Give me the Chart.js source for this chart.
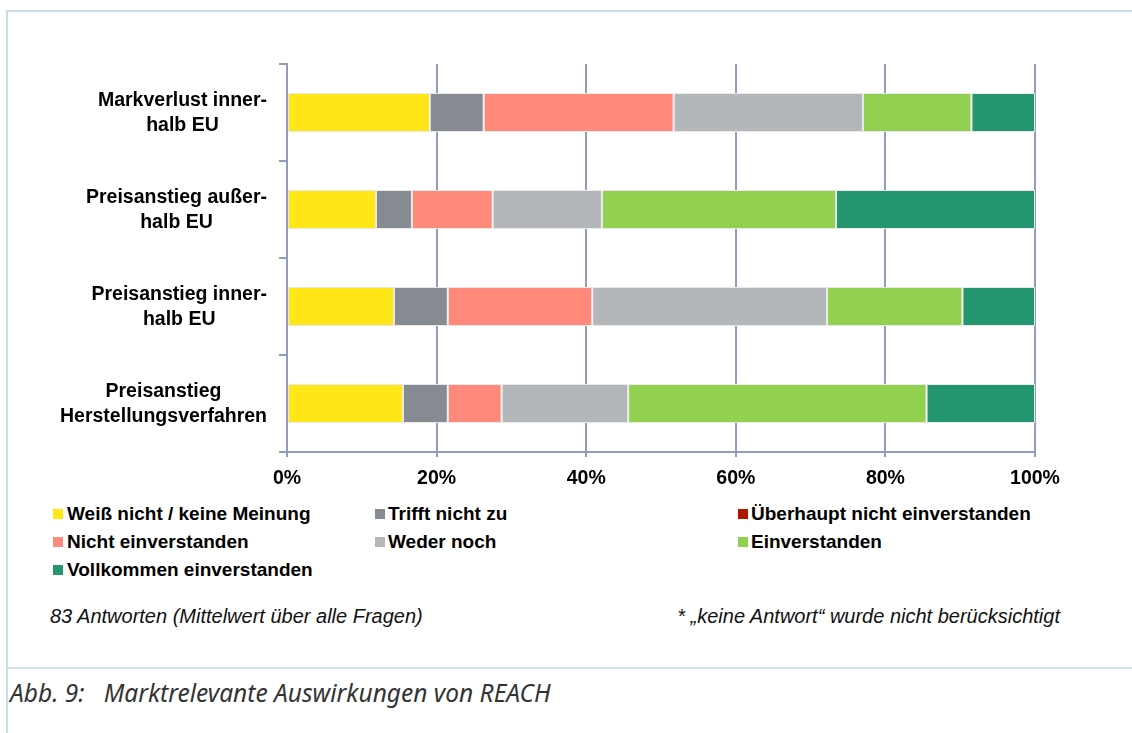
<!DOCTYPE html>
<html>
<head>
<meta charset="utf-8">
<script src="https://cdn.jsdelivr.net/npm/chart.js@4/dist/chart.umd.min.js"></script>
<style>
  html, body { margin: 0; padding: 0; background: #fff; }
  body { width: 1132px; height: 733px; position: relative; overflow: hidden; font-family: "Liberation Sans", Arial, sans-serif; }
  #frame-top { position: absolute; left: 6px; top: 10px; width: 1126px; height: 2px; background: #c8dfe9; }
  #frame-left { position: absolute; left: 6px; top: 10px; width: 2px; height: 723px; background: #c8dfe9; }
  #frame-mid { position: absolute; left: 6px; top: 667px; width: 1126px; height: 2px; background: #cfe4ec; }
  #wrap { position: absolute; left: 0; top: 0; width: 1132px; height: 500px; }
  #legend { position: absolute; left: 0; top: 0; }
  .lg { position: absolute; font-weight: bold; font-size: 19px; color: #000; white-space: nowrap; line-height: 22px; }
  .lg i { position: absolute; width: 10px; height: 10px; top: 6px; }
  .note { position: absolute; top: 605px; font-style: italic; font-size: 20px; color: #111; white-space: nowrap; }
  #caption { position: absolute; left: 10px; top: 676px; font-family: "Noto Sans", sans-serif; font-style: italic; font-weight: 400; font-size: 24.5px; color: #333; white-space: nowrap; }
</style>
</head>
<body>
<div id="frame-top"></div>
<div id="frame-left"></div>
<div id="frame-mid"></div>
<div id="wrap"><canvas id="chart"></canvas></div>
<div id="legend"></div>
<div class="note" style="left:50px">83 Antworten (Mittelwert über alle Fragen)</div>
<div class="note" style="right:72px">* „keine Antwort“ wurde nicht berücksichtigt</div>
<div id="caption">Abb. 9:&nbsp;&nbsp; Marktrelevante Auswirkungen von REACH</div>
<script>
const categories = [
  ['Markverlust inner-', 'halb EU'],
  ['Preisanstieg außer-', 'halb EU'],
  ['Preisanstieg inner-', 'halb EU'],
  ['Preisanstieg', 'Herstellungsverfahren']
];
const seriesNames = [
  'Weiß nicht / keine Meinung',
  'Trifft nicht zu',
  'Überhaupt nicht einverstanden',
  'Nicht einverstanden',
  'Weder noch',
  'Einverstanden',
  'Vollkommen einverstanden'
];
const seriesColors = ['#ffe617', '#868a91', '#b01500', '#ff8a7b', '#b4b7ba', '#92d050', '#23956f'];

// percent per category, same order as categories
const weissNicht   = [19.1, 11.9, 14.3, 15.5];
const trifftNicht  = [7.2, 4.8, 7.2, 6.0];
const ueberhaupt   = [0, 0, 0, 0];
const nichtEinv    = [25.4, 10.8, 19.3, 7.2];
const wederNoch    = [25.3, 14.6, 31.4, 16.9];
const einverstanden = [14.5, 31.3, 18.1, 39.9];
const vollkommen   = [8.5, 26.6, 9.7, 14.5];
const xTicks = [0, 20, 40, 60, 80, 100];

const seriesValues = [weissNicht, trifftNicht, ueberhaupt, nichtEinv, wederNoch, einverstanden, vollkommen];
const axisColor = '#939bc0';
const boldFont = '"Liberation Sans", Arial, sans-serif';

// y labels: block right-aligned, lines centred inside the block
const yLabelPlugin = {
  id: 'yLabels',
  afterDraw(chart) {
    const ctx = chart.ctx;
    const y = chart.scales.y;
    const right = chart.chartArea.left - 20;
    const lh = 25;
    ctx.save();
    ctx.font = 'bold 19.5px ' + boldFont;
    ctx.fillStyle = '#000';
    ctx.textAlign = 'center';
    ctx.textBaseline = 'middle';
    categories.forEach((lines, i) => {
      const w = Math.max(...lines.map(l => ctx.measureText(l).width));
      const cx = right - w / 2;
      const cy = y.getPixelForValue(i) + 1;
      lines.forEach((l, j) => ctx.fillText(l, cx, cy + (j - (lines.length - 1) / 2) * lh));
    });
    ctx.restore();
  }
};

new Chart(document.getElementById('chart'), {
  type: 'bar',
  data: {
    labels: categories,
    datasets: seriesNames.map((name, i) => ({
      label: name,
      data: seriesValues[i],
      backgroundColor: seriesColors[i],
      borderColor: '#e9e9e9',
      borderWidth: 1,
      borderSkipped: false,
      barPercentage: 0.4,
      categoryPercentage: 1
    }))
  },
  options: {
    indexAxis: 'y',
    responsive: true,
    maintainAspectRatio: false,
    animation: false,
    layout: { padding: { top: 64, right: 97, left: 0, bottom: 8 } },
    plugins: { legend: { display: false }, tooltip: { enabled: false } },
    scales: {
      x: {
        stacked: true,
        min: 0,
        max: 100,
        afterBuildTicks: s => { s.ticks = xTicks.map(v => ({ value: v })); },
        afterFit: s => { s.height = 40; },
        grid: { color: axisColor, lineWidth: 2, tickLength: 5 },
        border: { color: axisColor, width: 2 },
        ticks: {
          callback: v => v + '%',
          color: '#000',
          padding: 10,
          font: { family: boldFont, size: 19.5, weight: 'bold' }
        }
      },
      y: {
        stacked: true,
        afterFit: s => { s.width = 287; },
        grid: { offset: true, drawOnChartArea: false, color: axisColor, lineWidth: 2, tickLength: 8 },
        border: { color: axisColor, width: 2 },
        ticks: { display: false }
      }
    }
  },
  plugins: [yLabelPlugin]
});

// legend, three columns filled row-wise
const legendCols = [53, 375, 738];
const legendRows = [514, 542, 570];
const legend = document.getElementById('legend');
seriesNames.forEach((name, i) => {
  const d = document.createElement('div');
  d.className = 'lg';
  d.style.left = legendCols[i % 3] + 'px';
  d.style.top = (legendRows[Math.floor(i / 3)] - 11) + 'px';
  d.innerHTML = '<i style="left:0;background:' + seriesColors[i] + '"></i><span style="padding-left:' + (i % 3 === 0 ? 14 : 13) + 'px">' + name + '</span>';
  legend.appendChild(d);
});
</script>
</body>
</html>
